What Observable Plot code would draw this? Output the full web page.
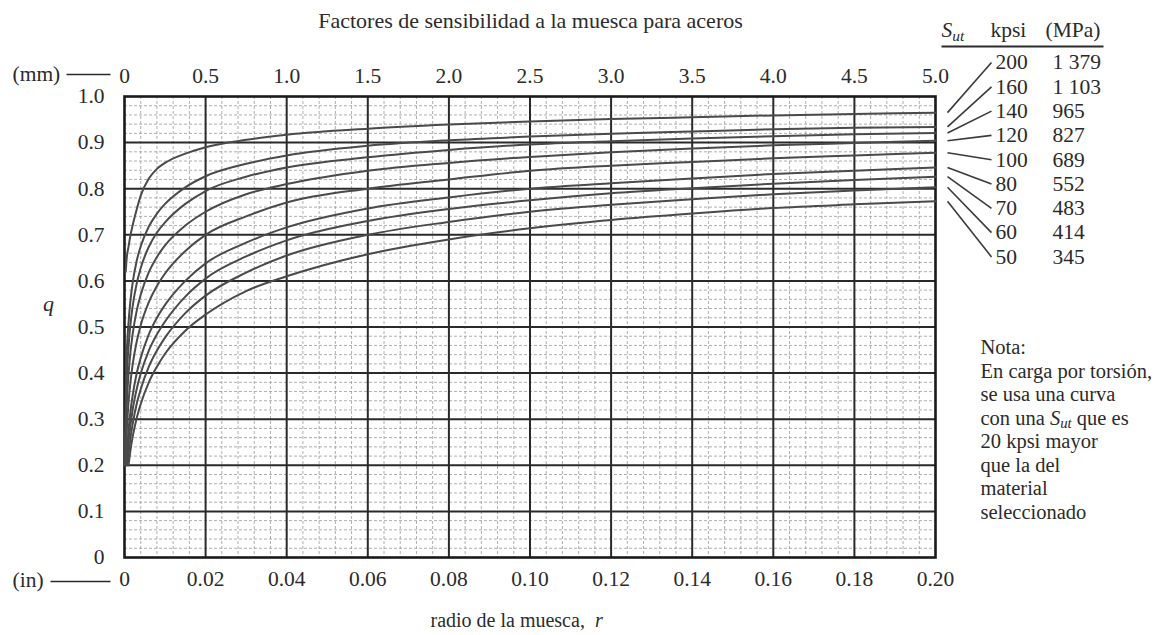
<!DOCTYPE html>
<html><head><meta charset="utf-8">
<script src="https://cdn.jsdelivr.net/npm/d3@7"></script>
<script src="https://cdn.jsdelivr.net/npm/@observablehq/plot@0.6"></script>
<style>
body{margin:0;background:#fff;}
#chart{width:1170px;height:635px;}
#chart svg text{font-family:'Liberation Serif','Times New Roman',serif !important;}
</style></head><body><div id="chart"></div>
<script>
// ---------- data ----------
const sutKpsi = [200, 160, 140, 120, 100, 80, 70, 60, 50];
const sutMPa = ["1 379", "1 103", "965", "827", "689", "552", "483", "414", "345"];
const rIn = [0.0005, 0.001, 0.0015, 0.002, 0.003, 0.004, 0.006, 0.008, 0.01, 0.015, 0.02, 0.03, 0.04, 0.06, 0.08, 0.10, 0.12, 0.14, 0.16, 0.18, 0.20];
const rStart = [0.0003, 0.00006, 0.00009, 0.00014, 0.00024, 0.00043, 0.00057, 0.00075, 0.001];
const qStart = [0.62, 0.2, 0.2, 0.2, 0.2, 0.2, 0.2, 0.2, 0.2];
const q200 = [0.645, 0.675, 0.70, 0.72, 0.755, 0.785, 0.822, 0.843, 0.856, 0.876, 0.89, 0.906, 0.917, 0.93, 0.939, 0.946, 0.951, 0.955, 0.959, 0.962, 0.965];
const q160 = [0.424, 0.51, 0.56, 0.595, 0.643, 0.675, 0.718, 0.746, 0.767, 0.803, 0.827, 0.854, 0.872, 0.893, 0.905, 0.913, 0.919, 0.924, 0.929, 0.932, 0.934];
const q140 = [0.373, 0.458, 0.508, 0.544, 0.594, 0.628, 0.674, 0.705, 0.727, 0.767, 0.795, 0.826, 0.846, 0.868, 0.884, 0.896, 0.903, 0.909, 0.914, 0.918, 0.921];
const q120 = [0.319, 0.399, 0.448, 0.484, 0.535, 0.57, 0.619, 0.652, 0.677, 0.72, 0.75, 0.788, 0.81, 0.839, 0.856, 0.869, 0.879, 0.887, 0.894, 0.899, 0.904];
const q100 = [0.264, 0.337, 0.383, 0.418, 0.468, 0.504, 0.554, 0.589, 0.616, 0.665, 0.70, 0.74, 0.77, 0.80, 0.82, 0.839, 0.85, 0.858, 0.866, 0.872, 0.878];
const q80 = [0.213, 0.277, 0.319, 0.351, 0.399, 0.433, 0.484, 0.52, 0.548, 0.60, 0.638, 0.683, 0.716, 0.757, 0.781, 0.80, 0.812, 0.822, 0.832, 0.839, 0.846];
const q70 = [null, 0.249, 0.289, 0.32, 0.365, 0.399, 0.449, 0.484, 0.512, 0.566, 0.605, 0.653, 0.688, 0.73, 0.756, 0.775, 0.79, 0.801, 0.811, 0.819, 0.826];
const q60 = [null, 0.224, 0.261, 0.289, 0.333, 0.365, 0.414, 0.449, 0.477, 0.53, 0.568, 0.618, 0.655, 0.70, 0.728, 0.75, 0.765, 0.777, 0.788, 0.796, 0.803];
const q50 = [null, null, 0.234, 0.261, 0.302, 0.333, 0.38, 0.414, 0.442, 0.492, 0.527, 0.578, 0.61, 0.658, 0.69, 0.714, 0.732, 0.746, 0.758, 0.766, 0.773];

const xTicks = [0, 0.02, 0.04, 0.06, 0.08, 0.10, 0.12, 0.14, 0.16, 0.18, 0.20];
const inLabels = ["0", "0.02", "0.04", "0.06", "0.08", "0.10", "0.12", "0.14", "0.16", "0.18", "0.20"];
const mmLabels = ["0", "0.5", "1.0", "1.5", "2.0", "2.5", "3.0", "3.5", "4.0", "4.5", "5.0"];
const qTicks = [0, 0.1, 0.2, 0.3, 0.4, 0.5, 0.6, 0.7, 0.8, 0.9, 1.0];
const qLabels = ["0", "0.1", "0.2", "0.3", "0.4", "0.5", "0.6", "0.7", "0.8", "0.9", "1.0"];

const titleText = "Factores de sensibilidad a la muesca para aceros";
const xTitle = "radio de la muesca, r";
const yTitle = "q";
const legendHeader = ["S_ut", "kpsi", "(MPa)"];
const noteLines = ["Nota:", "En carga por torsión,", "se usa una curva", "con una S_ut que es", "20 kpsi mayor", "que la del", "material", "seleccionado"];

// ---------- build table ----------
const qSeries = [q200, q160, q140, q120, q100, q80, q70, q60, q50];
const curves = sutKpsi.flatMap((s, i) => [
  {r: rStart[i], q: qStart[i], sut: s},
  ...rIn.map((r, j) => ({r, q: qSeries[i][j], sut: s})).filter(d => d.q != null)
]);

// ---------- layout ----------
const W = 1170, H = 635, ML = 124, MR = 235, MT = 96, MB = 78;
const X0 = ML, X1 = W - MR, Y0 = H - MB, Y1 = MT;
const X = px => (px - X0) / (X1 - X0) * 0.2;   // pixel -> data (inches)
const Y = py => (Y0 - py) / (Y0 - Y1);         // pixel -> data (q)

const minorX = d3.range(1, 50).filter(k => k % 5).map(k => k * 0.004);
const minorY = d3.range(1, 50).filter(k => k % 5).map(k => k * 0.02);
const majorX = xTicks.slice(1, -1);
const majorY = qTicks.slice(1, -1);

const rowY = i => 62 + i * 24.3;
const legendRows = sutKpsi.map((k, i) => ({kpsi: String(k), mpa: sutMPa[i], y: Y(rowY(i)), qEnd: qSeries[i][qSeries[i].length - 1]}));
const noteData = noteLines.map((t, i) => ({t, y: Y(347 + i * 23.5)}));

const ink = "#2b2b2b";
const serif = "'Liberation Serif', 'Times New Roman', serif";
const tickFont = 21.5;

const chart = Plot.plot({
  width: W, height: H,
  marginLeft: ML, marginRight: MR, marginTop: MT, marginBottom: MB,
  x: {domain: [0, 0.2]},
  y: {domain: [0, 1]},
  style: {fontFamily: serif, fontSize: "20px", color: ink, background: "#fff", overflow: "visible"},
  marks: [
    Plot.ruleX(minorX, {stroke: "#9a9a9a", strokeWidth: 0.8, strokeDasharray: "3,2"}),
    Plot.ruleY(minorY, {stroke: "#9a9a9a", strokeWidth: 0.8, strokeDasharray: "3,2"}),
    Plot.ruleX(majorX, {stroke: "#2a2a2a", strokeWidth: 2}),
    Plot.ruleY(majorY, {stroke: "#2a2a2a", strokeWidth: 2}),
    Plot.frame({stroke: "#1a1a1a", strokeWidth: 2.6}),
    Plot.line(curves, {x: "r", y: "q", z: "sut", stroke: "#4a4a4a", strokeWidth: 2, curve: "monotone-x"}),
    Plot.axisX({anchor: "bottom", ticks: xTicks, tickSize: 0, tickPadding: 13, label: null,
      tickFormat: d => inLabels[Math.round(d / 0.02)], fill: ink, fontSize: tickFont, fontFamily: serif}),
    Plot.axisX({anchor: "top", ticks: xTicks, tickSize: 0, tickPadding: 14, label: null,
      tickFormat: d => mmLabels[Math.round(d / 0.02)], fill: ink, fontSize: tickFont, fontFamily: serif}),
    Plot.axisY({anchor: "left", ticks: qTicks, tickSize: 0, tickPadding: 20, label: null,
      tickFormat: d => qLabels[Math.round(d * 10)], fill: ink, fontSize: tickFont, fontFamily: serif}),
    // unit markers
    Plot.text([{t: "(mm)", x: X(12), y: Y(74)}, {t: "(in)", x: X(12), y: Y(580)}],
      {x: "x", y: "y", text: "t", textAnchor: "start", fill: ink, fontSize: tickFont, fontFamily: serif}),
    Plot.link([{x1: X(66), x2: X(110), y: Y(74)}, {x1: X(50), x2: X(110), y: Y(581)}],
      {x1: "x1", x2: "x2", y1: "y", y2: "y", stroke: ink, strokeWidth: 1.5}),
    // titles
    Plot.text([{t: titleText, x: X(530), y: Y(20)}], {x: "x", y: "y", text: "t", fill: ink, fontSize: 22, fontFamily: serif}),
    Plot.text([{t: yTitle, x: X(48), y: Y(303)}], {x: "x", y: "y", text: "t", fill: ink, fontSize: 22, fontStyle: "italic", fontFamily: serif}),
    Plot.text([{t: xTitle, x: X(430), y: Y(620)}], {x: "x", y: "y", text: "t", textAnchor: "start", fill: ink, fontSize: 20, fontFamily: serif}),
    // legend
    Plot.text([{t: legendHeader[0], x: X(941)}, {t: legendHeader[1], x: X(990)}, {t: legendHeader[2], x: X(1045)}],
      {x: "x", y: Y(30), text: "t", textAnchor: "start", fill: ink, fontSize: 21.5, fontFamily: serif}),
    Plot.link([{x1: X(941), x2: X(1103)}], {x1: "x1", x2: "x2", y1: Y(46), y2: Y(46), stroke: ink, strokeWidth: 1.8}),
    Plot.text(legendRows, {x: X(995), y: "y", text: "kpsi", textAnchor: "start", fill: ink, fontSize: 21.5, fontFamily: serif}),
    Plot.text(legendRows, {x: X(1052), y: "y", text: "mpa", textAnchor: "start", fill: ink, fontSize: 21.5, fontFamily: serif}),
    Plot.link(legendRows, {x1: X(947), y1: "qEnd", x2: X(991), y2: "y", stroke: "#3a3a3a", strokeWidth: 1.6}),
    // note
    Plot.text(noteData, {x: X(980), y: "y", text: "t", textAnchor: "start", fill: ink, fontSize: 20.5, fontFamily: serif})
  ]
});

// rich text: subscripts and italics; enforce serif font
d3.select(chart).selectAll("text").attr("font-family", serif).each(function () {
  const el = d3.select(this);
  const txt = this.textContent;
  if (txt.includes("S_ut")) {
    const [pre, post] = txt.split("S_ut");
    el.text(null);
    if (pre) el.append("tspan").text(pre);
    el.append("tspan").attr("font-style", "italic").text("S");
    el.append("tspan").attr("font-style", "italic").attr("font-size", "0.72em").attr("dy", "0.25em").text("ut");
    el.append("tspan").attr("dy", "-0.18em").text(post || "");
  } else if (txt === xTitle) {
    el.text(null);
    el.append("tspan").text("radio de la muesca,\u00a0\u00a0");
    el.append("tspan").attr("font-style", "italic").text("r");
  }
});

document.getElementById("chart").appendChild(chart);
</script>
</body></html>
